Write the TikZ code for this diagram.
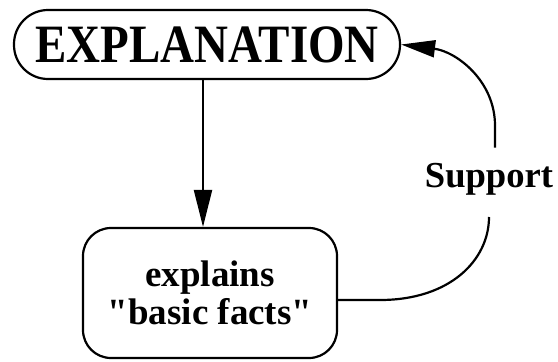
\documentclass[tikz,border=0pt]{standalone}
\usepackage{fontspec}
\usepackage{graphicx}
\setmainfont{Liberation Serif}[Ligatures=TeXOff]
\usetikzlibrary{arrows.meta}
\begin{document}
\begin{tikzpicture}[x=1pt,y=-1pt,
  box/.style={draw, line width=2.2pt, rectangle},
  conn/.style={line width=2.2pt},
]
\useasboundingbox (0,0) rectangle (558,362);
\node[box, rounded corners=34pt, minimum width=386pt, minimum height=69pt, inner sep=0pt,
      font=\bfseries\fontsize{54}{60}\selectfont] (expl) at (207,44.5)
  {\raisebox{-3.5pt}{\scalebox{0.87}[1]{EXPLANATION}}};
\node[box, rounded corners=28pt, minimum width=254pt, minimum height=130pt, inner sep=0pt,
      align=center, font=\bfseries\fontsize{37}{38}\selectfont] (facts) at (210,293)
  {explains\\"basic facts"};
\node[font=\bfseries\fontsize{36.6}{40}\selectfont, inner sep=0pt, anchor=base] (sup) at (489,187) {Support};
\draw[conn, -{Triangle[length=37pt,width=18pt]}] ([xshift=-4pt]expl.south) -- ([xshift=-4pt]expl.south |- facts.north);
\draw[conn] ([yshift=-7pt]facts.east) -- ++(42,0) .. controls +(70,0) and +(0,43) .. ([yshift=-22pt]sup.south);
\draw[conn, -{Triangle[length=34pt,width=17pt]}] ([xshift=6pt,yshift=15pt]sup.north) -- ++(0,-22) .. controls +(0,-45) and +(55,7) .. (expl.east);
\end{tikzpicture}
\end{document}
